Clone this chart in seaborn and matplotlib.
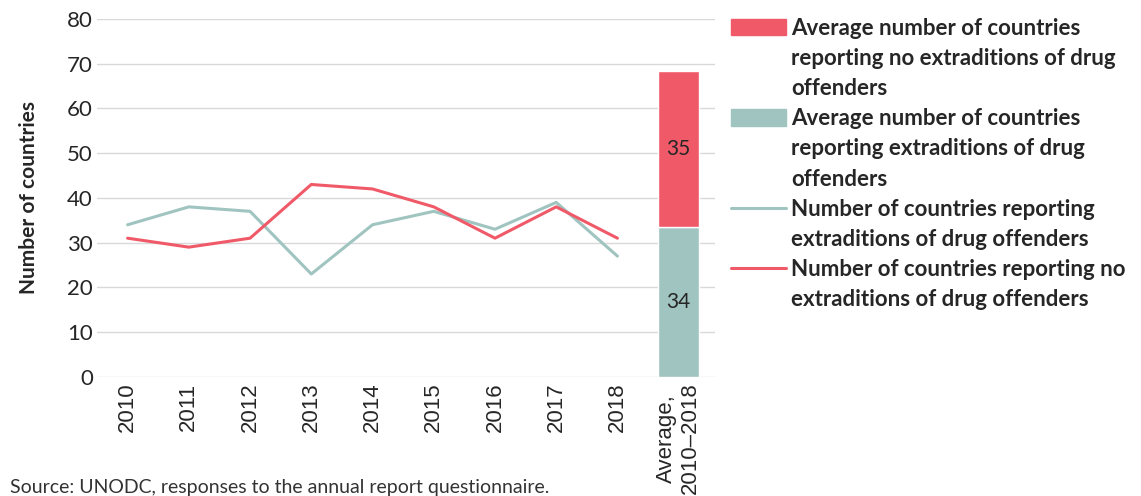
import numpy as np
import pandas as pd
import seaborn as sns
import matplotlib.pyplot as plt
from matplotlib.patches import Patch
from matplotlib.lines import Line2D

# dados
years = ['2010', '2011', '2012', '2013', '2014', '2015', '2016', '2017', '2018']
extraditions = [34, 38, 37, 23, 34, 37, 33, 39, 27]
no_extraditions = [31, 29, 31, 43, 42, 38, 31, 38, 31]
avg_label = 'Average,\n2010\u20132018'

red = '#F05A68'
teal = '#A0C4C0'

sns.set_theme(style='white')
plt.rcParams['font.family'] = ['Lato', 'DejaVu Sans']

df = pd.DataFrame({'pos': range(len(years)),
                   'ext': extraditions,
                   'noext': no_extraditions})

fig = plt.figure(figsize=(11.41, 4.96), dpi=100)
ax = fig.add_axes([0.085, 0.24, 0.542, 0.722])

sns.lineplot(data=df, x='pos', y='ext', color=teal, linewidth=2.2, ax=ax)
sns.lineplot(data=df, x='pos', y='noext', color=red, linewidth=2.2, ax=ax)

# barra das médias
avg_ext = np.mean(extraditions)
avg_noext = np.mean(no_extraditions)
bpos = len(years)
ax.bar(bpos, avg_ext, width=0.66, color=teal, zorder=3)
ax.bar(bpos, avg_noext, bottom=avg_ext, width=0.66, color=red, zorder=3)
ax.text(bpos, avg_ext / 2, f'{avg_ext:.0f}', ha='center', va='center', fontsize=15, zorder=4)
ax.text(bpos, avg_ext + avg_noext / 2, f'{avg_noext:.0f}', ha='center', va='center', fontsize=15, zorder=4)

ax.set_xlim(-0.5, bpos + 0.6)
ax.set_ylim(0, 80)
ax.set_yticks(range(0, 81, 10))
ax.set_xticks(range(bpos + 1))
ax.set_xticklabels(years + [avg_label], rotation=90)
ax.tick_params(axis='y', labelsize=16, length=0, pad=3)
ax.tick_params(axis='x', length=0, pad=4, labelsize=16, labelfontfamily='Liberation Sans')
ax.yaxis.grid(True, color='#D9D9D9', linewidth=1)
ax.set_axisbelow(True)
for s in ax.spines.values():
    s.set_visible(False)
ax.set_xlabel('')
ax.set_ylabel('Number of countries', fontsize=15, fontweight='bold', labelpad=20)

# legenda: uma linha por entrada, para o marcador ficar na primeira linha
blank = Line2D([], [], color='none')
handles = [Patch(color=red), blank, blank,
           Patch(color=teal), blank, blank,
           Line2D([], [], color=teal, linewidth=2.2), blank,
           Line2D([], [], color=red, linewidth=2.2), blank]
labels = ['Average number of countries', 'reporting no extraditions of drug', 'offenders',
          'Average number of countries', 'reporting extraditions of drug', 'offenders',
          'Number of countries reporting', 'extraditions of drug offenders',
          'Number of countries reporting no', 'extraditions of drug offenders']
leg = fig.legend(handles, labels, loc='upper left', bbox_to_anchor=(0.623, 1.004),
                 frameon=False, prop={'weight': 'bold', 'size': 16},
                 handlelength=2.5, handleheight=0.75, handletextpad=0.2,
                 labelspacing=0.41)

fig.text(0.009, 0.0, 'Source: UNODC, responses to the annual report questionnaire.',
         fontsize=14, color='#333333', va='bottom')

fig.savefig('out.png', dpi=100)
